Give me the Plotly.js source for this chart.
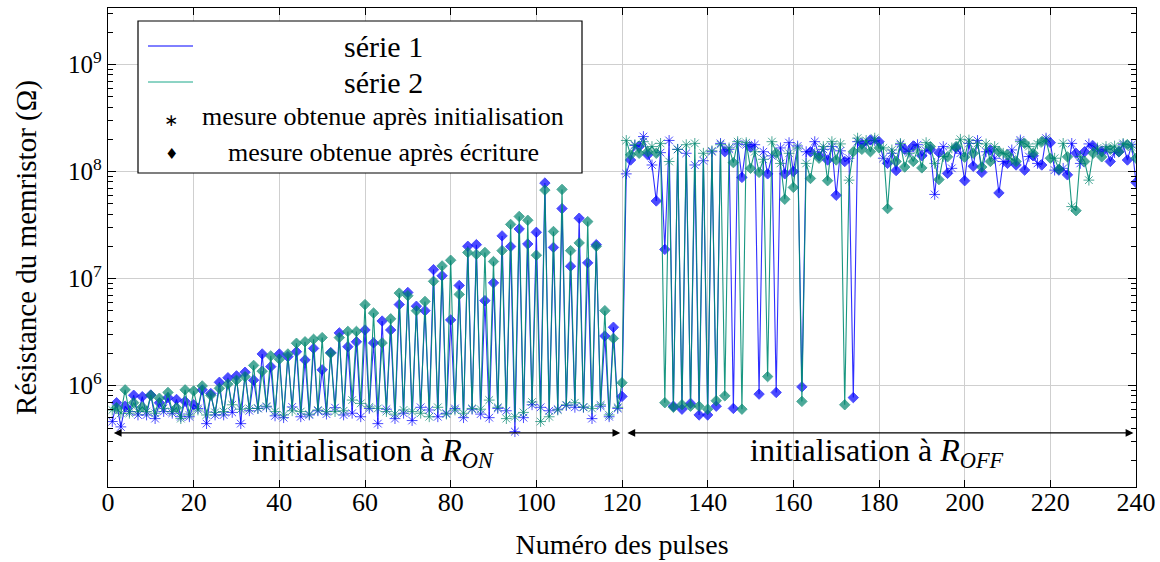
<!DOCTYPE html>
<html>
<head>
<meta charset="utf-8">
<script src="https://cdn.plot.ly/plotly-3.0.1.min.js"></script>
<style>html,body{margin:0;padding:0;background:#fff;}#chart{width:1160px;height:562px;}</style>
</head>
<body>
<div id="chart"></div>
<script>
// Mesures après initialisation (impulsions impaires 1,3,...,239) et après écriture (impulsions paires 2,4,...,240)
const serie1Init = [
  4.6e5,4.1e5,5.7e5,5.3e5,5.3e5,4.9e5,5.7e5,5.5e5,5.1e5,5.1e5,6.1e5,4.4e5,5.3e5,5.3e5,5.6e5,4.4e5,5.8e5,6.1e5,6.3e5,5.2e5,
  5.0e5,6.3e5,5.1e5,5.3e5,5.8e5,5.4e5,6.2e5,5.3e5,5.5e5,5.1e5,6.1e5,4.4e5,6.0e5,4.9e5,5.5e5,4.7e5,6.25e5,5.9e5,5.1e5,5.5e5,
  6.1e5,5.0e5,6.0e5,5.4e5,5.0e5,6.1e5,5.8e5,3.7e5,5.0e5,6.6e5,6.25e5,5.8e5,6.0e5,6.5e5,6.25e5,6.25e5,4.9e5,6.4e5,5.1e5,6.1e5,
  9.5e7,1.75e8,2.12e8,1.15e8,1.5e8,1.95e8,1.61e8,1.48e8,1.15e8,1.26e8,1.53e8,1.83e8,1.61e8,1.81e8,1.78e8,1.78e8,1.53e8,1.4e8,1.66e8,1.86e8,
  1.73e8,1.53e8,1.9e8,1.61e8,1.71e8,1.56e8,1.33e8,1.9e8,1.81e8,1.95e8,1.33e8,1.48e8,1.78e8,1.53e8,1.78e8,1.56e8,6.1e7,1.71e8,1.07e8,1.48e8,
  1.83e8,1.95e8,1.53e8,1.33e8,1.24e8,1.59e8,1.97e8,1.38e8,1.19e8,2.05e8,1.03e8,1.07e8,1.83e8,1.19e8,1.81e8,1.59e8,1.61e8,1.5e8,1.78e8,1.78e8
];
const serie1Write = [
  6.9e5,6.4e5,8.1e5,7.85e5,8.15e5,6.9e5,7.7e5,7.4e5,7.1e5,6.6e5,9.1e5,8.4e5,1.07e6,1.18e6,1.23e6,1.33e6,1.12e6,1.97e6,1.5e6,1.97e6,
  1.86e6,2.07e6,1.73e6,2.22e6,1.4e6,2.03e6,3.1e6,2.3e6,2.56e6,3.3e6,2.5e6,4.0e6,3.3e6,5.7e6,7.4e6,5.5e6,5.0e6,1.21e7,1.06e7,4.1e6,
  8.6e6,2.0e7,2.07e7,6.2e6,9.1e6,2.5e7,1.99e7,2.9e7,2.1e7,2.7e7,7.8e7,1.95e7,4.5e7,1.3e7,3.66e7,1.4e7,2.07e7,2.9e6,3.5e6,7.9e5,
  1.28e8,1.71e8,1.43e8,5.3e7,1.87e7,6.4e5,6.0e5,6.8e5,5.3e5,5.3e5,6.4e5,1.53e8,6.1e5,8.8e7,1.69e8,8.3e5,9.5e7,8.6e5,9.5e7,1.0e8,
  9.7e5,1.53e8,1.4e8,1.28e8,6.0e7,1.24e8,7.7e5,1.81e8,1.97e8,1.9e8,1.19e8,1.02e8,1.61e8,1.73e8,1.4e8,1.61e8,1.5e8,9.6e7,1.66e8,8.2e7,
  1.12e8,9.8e7,1.59e8,6.3e7,1.19e8,1.15e8,1.03e8,1.4e8,1.15e8,1.86e8,1.03e8,9.3e7,1.48e8,1.53e8,1.73e8,1.53e8,1.24e8,1.53e8,1.28e8,7.9e7
];
const serie2Init = [
  5.9e5,5.5e5,5.5e5,5.7e5,5.7e5,5.5e5,6.1e5,5.7e5,4.9e5,5.3e5,5.9e5,5.3e5,5.6e5,5.7e5,6.6e5,6.0e5,6.1e5,6.1e5,6.4e5,5.7e5,
  5.3e5,5.8e5,5.7e5,5.4e5,5.9e5,5.7e5,5.7e5,5.8e5,7.3e5,6.8e5,6.3e5,6.1e5,5.7e5,5.4e5,5.9e5,5.7e5,5.5e5,5.1e5,6.25e5,5.4e5,
  5.9e5,5.5e5,6.1e5,6.0e5,7.3e5,6.25e5,4.9e5,5.1e5,5.6e5,7.0e5,4.6e5,5.1e5,5.9e5,6.6e5,6.9e5,6.3e5,6.1e5,6.6e5,5.3e5,6.25e5,
  1.95e8,1.78e8,1.9e8,1.71e8,1.83e8,1.24e8,1.61e8,1.78e8,1.83e8,1.48e8,1.56e8,1.78e8,1.66e8,1.9e8,1.86e8,1.53e8,1.3e8,1.9e8,1.19e8,1.48e8,
  1.66e8,1.19e8,1.48e8,1.71e8,1.9e8,1.81e8,8.3e7,2.05e8,1.95e8,2.05e8,1.66e8,1.59e8,1.83e8,1.48e8,1.59e8,1.86e8,1.19e8,1.38e8,1.66e8,2.0e8,
  1.97e8,1.83e8,1.81e8,1.71e8,1.48e8,1.3e8,1.9e8,1.71e8,1.81e8,1.97e8,1.33e8,1.83e8,4.7e7,1.38e8,8.3e7,1.66e8,1.71e8,1.73e8,1.83e8,1.69e8
];
const serie2Write = [
  6.2e5,9.1e5,6.9e5,6.3e5,8.1e5,7.6e5,8.6e5,6.2e5,9.1e5,8.9e5,9.9e5,8.1e5,9.4e5,1.03e6,1.12e6,1.21e6,1.54e6,1.36e6,1.89e6,1.76e6,
  1.97e6,2.48e6,2.56e6,2.7e6,2.8e6,2.0e6,2.8e6,3.2e6,3.2e6,5.7e6,4.75e6,2.5e6,4.2e6,7.3e6,6.9e6,5.0e6,6.1e6,9.4e6,1.31e7,1.48e7,
  7.1e6,1.75e7,1.68e7,1.75e7,1.44e7,1.82e7,3.2e7,3.8e7,3.5e7,1.65e7,6.7e7,2.75e7,6.8e7,1.82e7,2.15e7,3.4e7,2.0e7,5.0e6,2.75e6,1.06e6,
  1.43e8,1.48e8,1.53e8,1.48e8,6.9e5,6.25e5,6.6e5,6.4e5,6.4e5,6.0e5,7.2e5,8.0e5,1.21e8,6.0e5,1.07e8,9.8e7,1.21e6,1.48e8,5.5e7,7.1e7,
  7.1e5,8.6e7,1.33e8,8.2e7,1.28e8,6.6e5,1.53e8,1.61e8,1.53e8,1.66e8,4.5e7,1.24e8,1.1e8,1.24e8,1.08e8,1.71e8,8.4e7,1.37e8,1.71e8,1.36e8,
  1.48e8,1.1e8,1.24e8,1.53e8,1.43e8,1.24e8,1.83e8,1.48e8,1.9e8,1.33e8,1.05e8,1.37e8,4.3e7,1.24e8,1.48e8,1.37e8,1.61e8,1.53e8,1.78e8,1.33e8
];
const xTicks = [0,20,40,60,80,100,120,140,160,180,200,220,240];
const yTicks = [1e6,1e7,1e8,1e9];
const yTickText = ['10<sup>6</sup>','10<sup>7</sup>','10<sup>8</sup>','10<sup>9</sup>'];
const seriesNames = ['série 1','série 2'];
const markerNames = ['mesure obtenue après initialisation','mesure obtenue après écriture'];
const phaseLabels = ['initialisation à <i>R</i><sub><i>ON</i></sub>','initialisation à <i>R</i><sub><i>OFF</i></sub>'];

const BLUE = '#0000ff', TEAL = '#00856e';
const FONT = 'Liberation Serif';

function buildSeries(init, write, color, lineColor) {
  const x = [], y = [], sym = [], size = [];
  for (let i = 0; i < init.length; i++) {
    x.push(2 * i + 1); y.push(init[i]); sym.push('asterisk-open'); size.push(9);
    x.push(2 * i + 2); y.push(write[i]); sym.push('diamond'); size.push(8);
  }
  return {
    type: 'scatter', mode: 'lines+markers', x: x, y: y, showlegend: false,
    line: {color: lineColor, width: 1.1},
    marker: {symbol: sym, size: size, color: color, line: {color: color, width: 1}}
  };
}

const traces = [
  buildSeries(serie1Init, serie1Write, BLUE, 'rgba(10,10,255,0.85)'),
  buildSeries(serie2Init, serie2Write, TEAL, 'rgba(0,140,115,0.9)')
];

const minorVals = [];
for (let e = 5; e <= 9; e++) for (let m = 2; m <= 9; m++) minorVals.push(m * Math.pow(10, e));

// plot area geometry for paper coords of legend
const L = 108, R = 1136, T = 8, B = 487;
const px = v => (v - L) / (R - L);
const py = v => (B - v) / (B - T);

const yArrow = 5.556, yText = 5.37;

const layout = {
  width: 1160, height: 562,
  margin: {l: L, r: 1160 - R, t: T, b: 562 - B},
  paper_bgcolor: '#fff', plot_bgcolor: '#fff',
  font: {family: FONT, color: '#000', size: 22},
  showlegend: false,
  xaxis: {
    range: [0, 240], tickmode: 'array', tickvals: xTicks, ticks: 'inside', ticklen: 7, tickcolor: '#000',
    showline: true, linecolor: '#000', linewidth: 1.2, mirror: 'ticks',
    showgrid: true, gridcolor: '#cfcfcf', gridwidth: 1, zeroline: false,
    tickfont: {family: FONT, size: 26}, ticklabelstandoff: -8,
    title: {text: 'Numéro des pulses', font: {family: FONT, size: 28}, standoff: 18}
  },
  yaxis: {
    type: 'log', range: [5.051, 9.528], tickmode: 'array', tickvals: yTicks, ticktext: yTickText,
    ticks: 'inside', ticklen: 8, tickcolor: '#000',
    showline: true, linecolor: '#000', linewidth: 1.2, mirror: 'ticks',
    showgrid: true, gridcolor: '#cfcfcf', gridwidth: 1, zeroline: false,
    tickfont: {family: FONT, size: 25},
    minor: {tickmode: 'array', tickvals: minorVals, ticks: 'inside', ticklen: 5, tickcolor: '#000', showgrid: false},
    title: {text: 'Résistance du memristor (Ω)', font: {family: FONT, size: 29}, standoff: 22}
  },
  shapes: [
    {type: 'rect', xref: 'paper', yref: 'paper', x0: px(138), x1: px(582), y0: py(173), y1: py(21),
     line: {color: '#000', width: 1.2}, fillcolor: '#fff', layer: 'above'},
    {type: 'line', xref: 'paper', yref: 'paper', x0: px(148), x1: px(193), y0: py(46), y1: py(46),
     line: {color: BLUE, width: 1}, layer: 'above'},
    {type: 'line', xref: 'paper', yref: 'paper', x0: px(148), x1: px(193), y0: py(82), y1: py(82),
     line: {color: '#1aa88a', width: 1}, layer: 'above'}
  ],
  annotations: [
    {xref: 'paper', yref: 'paper', x: px(383), y: py(46), text: seriesNames[0], showarrow: false, xanchor: 'center', yanchor: 'middle', font: {family: FONT, size: 30}},
    {xref: 'paper', yref: 'paper', x: px(383), y: py(82), text: seriesNames[1], showarrow: false, xanchor: 'center', yanchor: 'middle', font: {family: FONT, size: 30}},
    {xref: 'paper', yref: 'paper', x: px(383), y: py(117), text: markerNames[0], showarrow: false, xanchor: 'center', yanchor: 'middle', font: {family: FONT, size: 26}},
    {xref: 'paper', yref: 'paper', x: px(383), y: py(152), text: markerNames[1], showarrow: false, xanchor: 'center', yanchor: 'middle', font: {family: FONT, size: 26}},
    {xref: 'paper', yref: 'paper', x: px(171), y: py(120), text: '∗', showarrow: false, xanchor: 'center', yanchor: 'middle', font: {family: 'DejaVu Sans', size: 17}},
    {xref: 'paper', yref: 'paper', x: px(171), y: py(154), text: '♦', showarrow: false, xanchor: 'center', yanchor: 'middle', font: {family: 'DejaVu Sans', size: 15}},
    {xref: 'x', yref: 'y', x: 119.6, y: yArrow, ax: 1, ay: yArrow, axref: 'x', ayref: 'y', text: '', showarrow: true,
     arrowhead: 2, startarrowhead: 2, arrowside: 'end+start', arrowsize: 1.2, startarrowsize: 1.2, arrowwidth: 1.3, arrowcolor: '#000'},
    {xref: 'x', yref: 'y', x: 239.4, y: yArrow, ax: 120.9, ay: yArrow, axref: 'x', ayref: 'y', text: '', showarrow: true,
     arrowhead: 2, startarrowhead: 2, arrowside: 'end+start', arrowsize: 1.2, startarrowsize: 1.2, arrowwidth: 1.3, arrowcolor: '#000'},
    {xref: 'x', yref: 'y', x: 61.8, y: yText, text: phaseLabels[0], showarrow: false, xanchor: 'center', yanchor: 'middle', font: {family: FONT, size: 32}},
    {xref: 'x', yref: 'y', x: 179.5, y: yText, text: phaseLabels[1], showarrow: false, xanchor: 'center', yanchor: 'middle', font: {family: FONT, size: 32}}
  ]
};

Plotly.newPlot('chart', traces, layout, {displayModeBar: false, staticPlot: true});
</script>
</body>
</html>
